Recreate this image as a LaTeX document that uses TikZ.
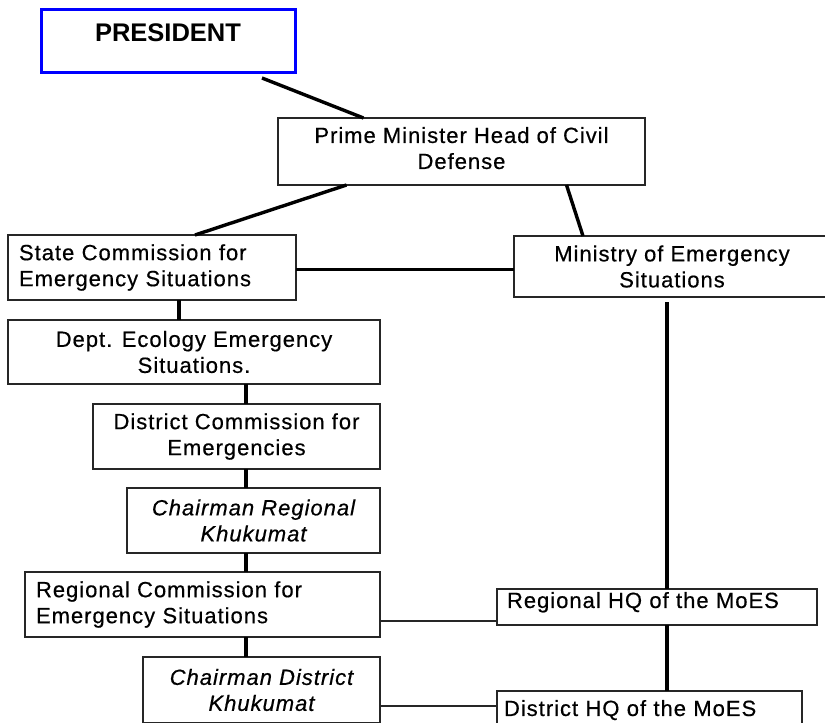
\documentclass[tikz,border=0pt]{standalone}
\usepackage{fontspec}
\setmainfont{Liberation Sans}[LetterSpace=4.5, FakeBold=0.5]
\begin{document}
\begin{tikzpicture}[x=1pt,y=-1pt,
  box/.style={draw=black!85, line width=1.3pt, rectangle, inner sep=0pt, outer sep=0pt,
    anchor=north west, align=center, font=\fontsize{22}{26}\selectfont},
  leftbox/.style={box, align=left},
  conn/.style={draw=black, line width=3.4pt},
  thinconn/.style={draw=black!85, line width=1.2pt}]
\clip (0,0) rectangle (825,723);
\fill[white] (0,0) rectangle (825,723);
% boxes
\node[box, draw=blue, line width=3pt, minimum width=254pt, minimum height=63pt, text depth=16pt,
  font=\fontsize{25.5}{22}\selectfont\bfseries\addfontfeatures{LetterSpace=0, FakeBold=0}] (pres) at (41,9) {PRESIDENT};
\node[box, minimum width=367pt, minimum height=67pt, text depth=7pt] (pm) at (278,118)
  {Prime Minister Head of Civil\\Defense};
\node[leftbox, minimum width=288pt, minimum height=65pt, text width=266pt, inner xsep=11pt] (state) at (8,235)
  {State Commission for\\Emergency Situations};
\node[box, minimum width=316pt, minimum height=61pt] (min) at (514,236)
  {Ministry of Emergency\\Situations};
\node[box, minimum width=372pt, minimum height=64pt] (dept) at (8,320)
  {Dept. Ecology Emergency\\Situations.};
\node[box, minimum width=287pt, minimum height=65pt] (dist) at (93,404)
  {District Commission for\\Emergencies};
\node[box, minimum width=253pt, minimum height=65pt, font=\fontsize{22}{26}\selectfont\itshape] (chreg) at (127,488)
  {Chairman Regional\\Khukumat};
\node[leftbox, minimum width=355pt, minimum height=65pt, text width=333pt, inner xsep=11pt] (regc) at (25,572)
  {Regional Commission for\\Emergency Situations};
\node[box, minimum width=237pt, minimum height=66pt, font=\fontsize{22}{26}\selectfont\itshape] (chdist) at (143,657)
  {Chairman District\\Khukumat};
\node[leftbox, minimum width=320pt, minimum height=36pt, text width=300pt, inner xsep=10pt, text depth=14pt] (rhq) at (497,589)
  {Regional HQ of the MoES};
\node[leftbox, draw=none, minimum width=303pt, minimum height=34pt, text width=291pt, inner xsep=7pt, text depth=0pt] (dhq) at (497,691)
  {District HQ of the MoES};
\draw[draw=black!85, line width=1.3pt] (dhq.north west) rectangle ([yshift=-30pt]dhq.south east);
% column coordinates
\coordinate (colx) at (246,0);
\coordinate (colm) at (667,0);
% connectors
\draw[conn] ([xshift=94pt,yshift=-6pt]pres.south) -- ([xshift=-98pt]pm.north);
\draw[conn] ([xshift=-115pt]pm.south) -- ([xshift=43pt]state.north);
\draw[conn] ([xshift=105pt]pm.south) -- ([xshift=-89pt]min.north);
\draw[conn] ([yshift=-2pt]state.east) -- ([yshift=-2pt]state.east -| min.west);
\draw[conn] ([xshift=27pt]state.south) -- ([xshift=27pt]state.south |- dept.north);
\draw[conn] (colx |- dept.south) -- (colx |- dist.north);
\draw[conn] (colx |- dist.south) -- (colx |- chreg.north);
\draw[conn] (colx |- chreg.south) -- (colx |- regc.north);
\draw[conn] (colx |- regc.south) -- (colx |- chdist.north);
\draw[conn] ([yshift=-5pt]colm |- min.south) -- (colm |- rhq.north);
\draw[conn] (colm |- rhq.south) -- (colm |- dhq.north);
\draw[thinconn] ([yshift=16pt]regc.south east) -- ([yshift=16pt]regc.south east -| rhq.west);
\draw[thinconn] ([yshift=17pt]chdist.south east) -- ([yshift=17pt]chdist.south east -| dhq.west);
\end{tikzpicture}
\end{document}
